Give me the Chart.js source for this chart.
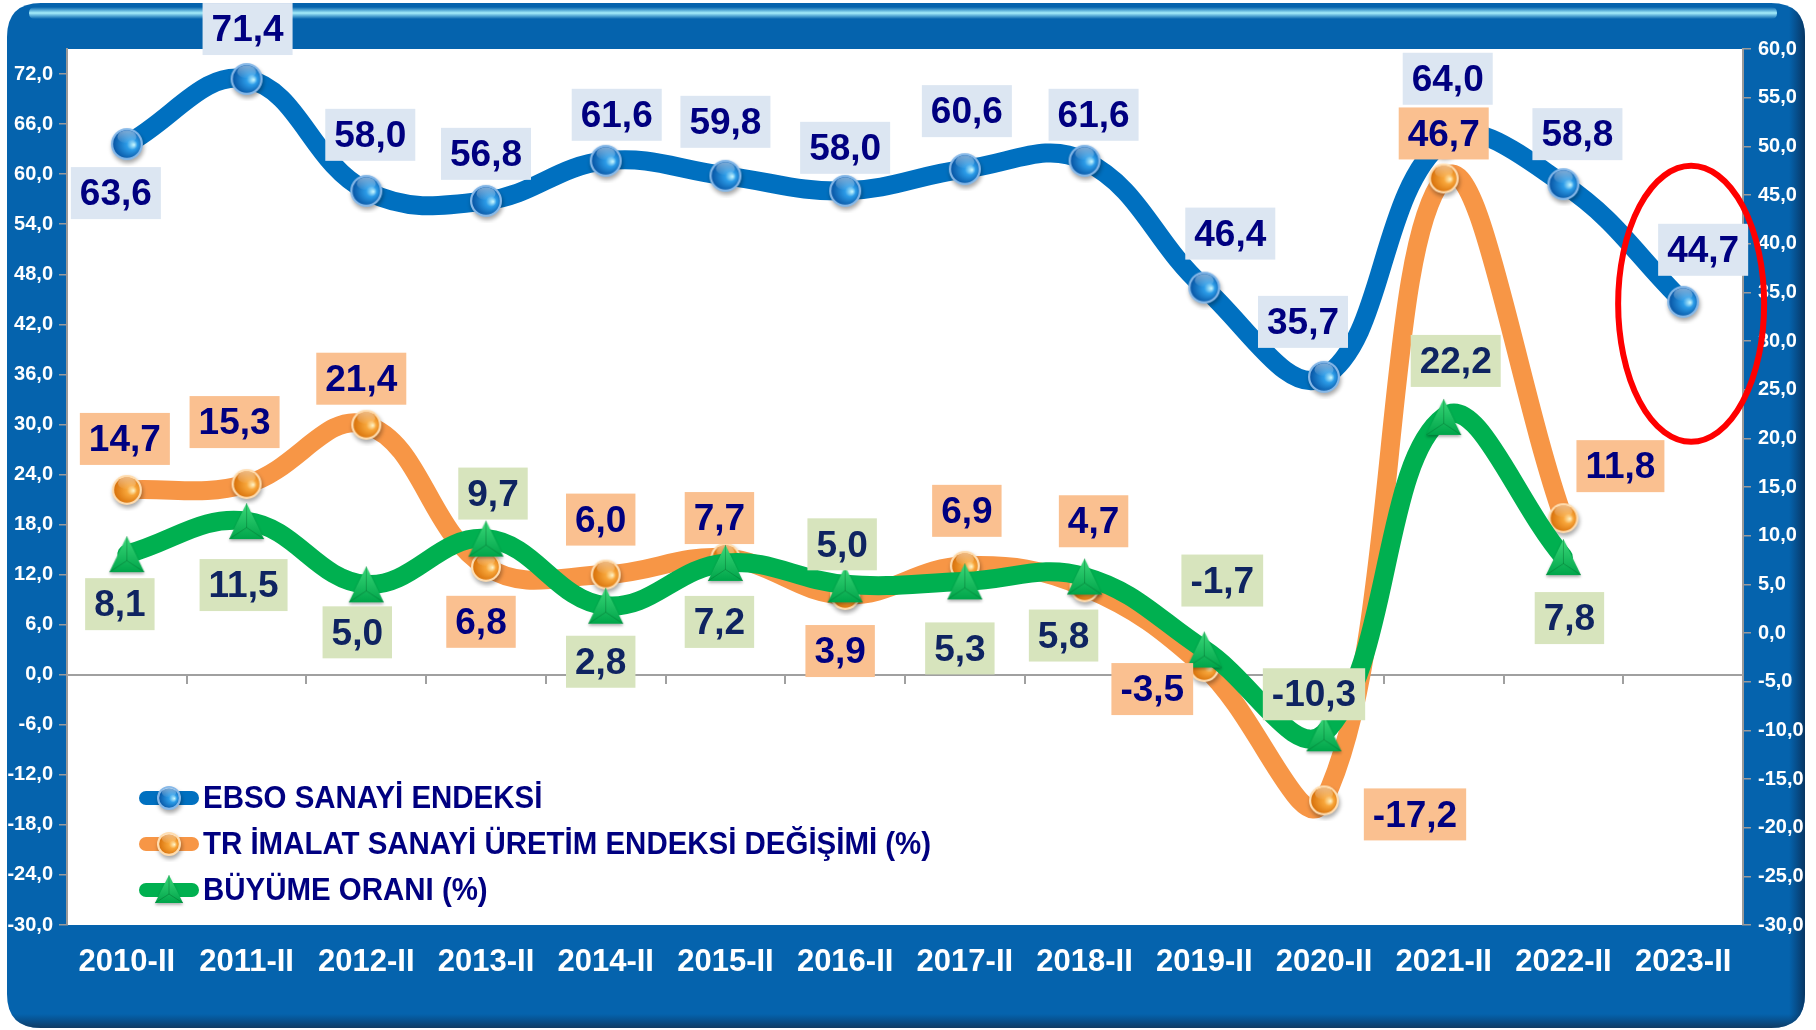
<!DOCTYPE html>
<html>
<head>
<meta charset="utf-8">
<script src="https://cdn.jsdelivr.net/npm/chart.js@4.4.1/dist/chart.umd.min.js"></script>
<style>
html,body{margin:0;padding:0;background:#fff;overflow:hidden;}
canvas{display:block;}
</style>
</head>
<body>
<canvas id="c" width="1816" height="1030"></canvas>
<script>
// ---------------- DATA ----------------
const categories = ['2010-II','2011-II','2012-II','2013-II','2014-II','2015-II','2016-II','2017-II','2018-II','2019-II','2020-II','2021-II','2022-II','2023-II'];
const ebsoIndex = [63.6, 71.4, 58.0, 56.8, 61.6, 59.8, 58.0, 60.6, 61.6, 46.4, 35.7, 64.0, 58.8, 44.7];
const trManufacturingChange = [14.7, 15.3, 21.4, 6.8, 6.0, 7.7, 3.9, 6.9, 4.7, -3.5, -17.2, 46.7, 11.8, null];
const growthRate = [8.1, 11.5, 5.0, 9.7, 2.8, 7.2, 5.0, 5.3, 5.8, -1.7, -10.3, 22.2, 7.8, null];
const leftTickValues = [-30, -24, -18, -12, -6, 0, 6, 12, 18, 24, 30, 36, 42, 48, 54, 60, 66, 72];
const rightTickValues = [-30, -25, -20, -15, -10, -5, 0, 5, 10, 15, 20, 25, 30, 35, 40, 45, 50, 55, 60];
const seriesNames = ['EBSO SANAYİ ENDEKSİ', 'TR İMALAT SANAYİ ÜRETİM ENDEKSİ DEĞİŞİMİ (%)', 'BÜYÜME ORANI (%)'];

// ---------------- STYLE ----------------
const FONT = '"Liberation Sans", Arial, sans-serif';
const fmt = v => v.toFixed(1).replace('.', ',');

// label box centre offsets relative to each point (px)
const ebsoLabelOffsets = [[-11,49],[1,-50],[4,-56],[0,-47],[11,-46],[0,-54],[0,-43],[2,-58],[9,-46],[26,-54],[-21,-55],[4,-62],[14,-50],[20,-52]];
const trLabelOffsets = [[-2,-51],[-12,-62],[-5,-46],[-5,55],[-5,-55],[-6,-40],[-5,56],[2,-55],[9,-66],[-52,22],[91,14],[0,-45],[57,-52],null];
const growthLabelOffsets = [[-7,50],[-3,64],[-9,48],[7,-45],[-5,56],[-6,59],[-3,-40],[-5,67],[-21,59],[18,-69],[-10,-39],[12,-56],[6,61],null];

function makeSphere(r, col) {
  const s = 2 * r + 12;
  const cv = document.createElement('canvas');
  cv.width = s; cv.height = s;
  const g = cv.getContext('2d');
  const cx = s / 2, cy = s / 2;
  g.save();
  g.shadowColor = 'rgba(0,0,0,0.35)';
  g.shadowBlur = 4; g.shadowOffsetX = 1; g.shadowOffsetY = 3;
  g.beginPath(); g.arc(cx, cy, r, 0, Math.PI * 2); g.fillStyle = col.rim; g.fill();
  g.restore();
  const rg = g.createRadialGradient(cx + r * 0.45, cy + r * 0.05, 0, cx + r * 0.1, cy, r * 0.95);
  rg.addColorStop(0, col.hi);
  rg.addColorStop(0.35, col.mid);
  rg.addColorStop(1, col.dark);
  g.beginPath(); g.arc(cx, cy, r - 2.2, 0, Math.PI * 2); g.fillStyle = rg; g.fill();
  const tg = g.createLinearGradient(0, cy - r, 0, cy);
  tg.addColorStop(0, 'rgba(255,255,255,0.55)');
  tg.addColorStop(1, 'rgba(255,255,255,0)');
  g.beginPath(); g.ellipse(cx, cy - r * 0.45, r * 0.6, r * 0.4, 0, 0, Math.PI * 2); g.fillStyle = tg; g.fill();
  return cv;
}
function makeTriangle(w, h) {
  const cv = document.createElement('canvas');
  cv.width = w + 10; cv.height = h + 10;
  const g = cv.getContext('2d');
  const cx = cv.width / 2, cy = cv.height / 2;
  const top = cy - h / 2, bot = cy + h / 2;
  g.save();
  g.shadowColor = 'rgba(0,0,0,0.3)';
  g.shadowBlur = 3; g.shadowOffsetY = 2;
  g.beginPath(); g.moveTo(cx, top); g.lineTo(cx + w / 2, bot); g.lineTo(cx - w / 2, bot); g.closePath();
  const lg = g.createLinearGradient(0, top, 0, bot);
  lg.addColorStop(0, '#3BD879'); lg.addColorStop(1, '#00A54A');
  g.fillStyle = lg; g.fill();
  g.restore();
  const mx = cx, my = top + h * 0.68;
  g.strokeStyle = 'rgba(0,90,35,0.35)'; g.lineWidth = 1;
  g.beginPath(); g.moveTo(mx, my); g.lineTo(cx, top); g.moveTo(mx, my); g.lineTo(cx + w / 2, bot); g.moveTo(mx, my); g.lineTo(cx - w / 2, bot); g.stroke();
  return cv;
}
const blueCol = {rim:'#86B8E8', hi:'#CFFBFF', mid:'#2C9CE8', dark:'#0857A6'};
const orangeCol = {rim:'#FFDDB0', hi:'#FFF7CC', mid:'#F8A63A', dark:'#D8720C'};
const blueSphere = makeSphere(16, blueCol);
const orangeSphere = makeSphere(15, orangeCol);
const greenTri = makeTriangle(35, 36);
const blueSphereS = makeSphere(12, blueCol);
const orangeSphereS = makeSphere(12, orangeCol);
const greenTriS = makeTriangle(28, 28);

// ---------------- PLUGINS ----------------
function roundRectPath(g, x, y, w, h, r) {
  g.beginPath();
  g.moveTo(x + r, y); g.lineTo(x + w - r, y); g.quadraticCurveTo(x + w, y, x + w, y + r);
  g.lineTo(x + w, y + h - r); g.quadraticCurveTo(x + w, y + h, x + w - r, y + h);
  g.lineTo(x + r, y + h); g.quadraticCurveTo(x, y + h, x, y + h - r);
  g.lineTo(x, y + r); g.quadraticCurveTo(x, y, x + r, y); g.closePath();
}
const framePlugin = {
  id: 'frame',
  beforeDraw(chart) {
    const g = chart.ctx, a = chart.chartArea;
    g.save();
    const X = 7, Y = 3, W = 1798, H = 1025, R = 34;
    roundRectPath(g, X, Y, W, H, R);
    g.fillStyle = '#0563AD'; g.fill();
    g.save();
    roundRectPath(g, X, Y, W, H, R); g.clip();
    let eg = g.createLinearGradient(X + W - 16, 0, X + W, 0);
    eg.addColorStop(0, 'rgba(8,50,95,0)'); eg.addColorStop(1, 'rgba(8,45,85,0.85)');
    g.fillStyle = eg; g.fillRect(X + W - 16, Y, 16, H);
    eg = g.createLinearGradient(0, Y + H - 14, 0, Y + H);
    eg.addColorStop(0, 'rgba(8,50,95,0)'); eg.addColorStop(1, 'rgba(20,50,80,0.8)');
    g.fillStyle = eg; g.fillRect(X, Y + H - 14, W, 14);
    const gl = g.createLinearGradient(0, Y + 4, 0, Y + 16);
    gl.addColorStop(0, 'rgba(160,235,255,0)');
    gl.addColorStop(0.5, 'rgba(175,245,255,0.95)');
    gl.addColorStop(1, 'rgba(160,235,255,0)');
    g.fillStyle = gl;
    roundRectPath(g, X + 22, Y + 4, W - 50, 12, 6); g.fill();
    g.restore();
    g.fillStyle = '#FFFFFF';
    g.fillRect(a.left, a.top, a.right - a.left, a.bottom - a.top);
    g.restore();
  },
  beforeDatasetsDraw(chart) {
    const g = chart.ctx, a = chart.chartArea;
    const ys = chart.scales.y, xs = chart.scales.x;
    const y0 = Math.round(ys.getPixelForValue(0));
    g.save();
    g.strokeStyle = '#A0A0A0'; g.lineWidth = 2;
    g.beginPath(); g.moveTo(a.left, y0); g.lineTo(a.right, y0); g.stroke();
    g.beginPath();
    for (let i = 0; i < categories.length - 1; i++) {
      const xp = Math.round((xs.getPixelForValue(i) + xs.getPixelForValue(i + 1)) / 2);
      g.moveTo(xp, y0); g.lineTo(xp, y0 + 9);
    }
    g.stroke();
    g.restore();
  }
};
const labelPlugin = {
  id: 'boxLabels',
  afterDatasetsDraw(chart) {
    const g = chart.ctx;
    const specs = [
      {ds: 0, offsets: ebsoLabelOffsets, bg: '#DCE6F2', color: '#000080'},
      {ds: 1, offsets: trLabelOffsets, bg: '#FAC090', color: '#000080'},
      {ds: 2, offsets: growthLabelOffsets, bg: '#D7E4BD', color: '#0F2461'}
    ];
    g.save();
    g.font = 'bold 37px ' + FONT;
    g.textAlign = 'center'; g.textBaseline = 'middle';
    specs.forEach(s => {
      const meta = chart.getDatasetMeta(s.ds);
      const data = chart.data.datasets[s.ds].data;
      meta.data.forEach((pt, i) => {
        const v = data[i];
        if (v == null || !s.offsets[i]) return;
        const txt = fmt(v);
        const w = g.measureText(txt).width + 18, h = 52;
        const cx = pt.x + s.offsets[i][0], cy = pt.y + s.offsets[i][1];
        g.fillStyle = s.bg; g.fillRect(cx - w / 2, cy - h / 2, w, h);
        g.fillStyle = s.color; g.fillText(txt, cx, cy + 2);
      });
    });
    g.restore();
    // legend (inside plot area, bottom-left)
    const lx = 139, rows = [798, 844, 890];
    const lcols = ['#0070C0', '#F79646', '#00B050'];
    const lmark = [blueSphereS, orangeSphereS, greenTriS];
    g.save();
    chart.data.datasets.forEach((d, i) => {
      const y = rows[i];
      g.strokeStyle = lcols[i]; g.lineWidth = 14; g.lineCap = 'round';
      g.beginPath(); g.moveTo(lx + 7, y); g.lineTo(lx + 53, y); g.stroke();
      const m = lmark[i];
      g.drawImage(m, lx + 30 - m.width / 2, y - m.height / 2 + (i === 2 ? -1 : 0));
      g.save();
      g.translate(lx + 64, y);
      g.scale(0.95, 1);
      g.font = 'bold 31px ' + FONT;
      g.fillStyle = '#000080'; g.textAlign = 'left'; g.textBaseline = 'middle';
      g.fillText(d.label, 0, 1);
      g.restore();
    });
    g.restore();
  },
  afterDraw(chart) {
    const meta = chart.getDatasetMeta(0);
    const p = meta.data[meta.data.length - 1];
    const g = chart.ctx;
    g.save();
    g.strokeStyle = '#FF0000'; g.lineWidth = 6;
    g.beginPath(); g.ellipse(p.x + 8, p.y + 2, 73, 138, 0, 0, Math.PI * 2); g.stroke();
    g.restore();
  }
};

// ---------------- CHART ----------------
const tickFont = {family: FONT, size: 20, weight: 'bold'};
new Chart(document.getElementById('c'), {
  type: 'line',
  data: {
    labels: categories,
    datasets: [
      {label: seriesNames[0], data: ebsoIndex, yAxisID: 'y', borderColor: '#0070C0', borderWidth: 19,
       tension: 0.4, pointStyle: blueSphere, pointRadius: 16, order: 3, borderCapStyle: 'round', borderJoinStyle: 'round'},
      {label: seriesNames[1], data: trManufacturingChange, yAxisID: 'y1', borderColor: '#F79646', borderWidth: 19,
       tension: 0.4, pointStyle: orangeSphere, pointRadius: 15, order: 2, borderCapStyle: 'round', borderJoinStyle: 'round'},
      {label: seriesNames[2], data: growthRate, yAxisID: 'y1', borderColor: '#00B050', borderWidth: 19,
       tension: 0.4, pointStyle: greenTri, pointRadius: 18, order: 1, borderCapStyle: 'round', borderJoinStyle: 'round'}
    ]
  },
  options: {
    responsive: false,
    animation: false,
    devicePixelRatio: 1,
    layout: {padding: {top: 49, left: 0, right: 0, bottom: 0}},
    plugins: {legend: {display: false}, tooltip: {enabled: false}},
    scales: {
      x: {
        type: 'category', offset: true,
        grid: {display: false, drawTicks: false}, border: {display: false},
        ticks: {color: '#FFFFFF', font: {family: FONT, size: 31, weight: 'bold'}, padding: 19, autoSkip: false, maxRotation: 0},
        afterFit(s) { s.height = 105; }
      },
      y: {
        position: 'left', min: -30, max: 75,
        afterBuildTicks(s) { s.ticks = leftTickValues.map(v => ({value: v})); },
        grid: {drawOnChartArea: false, drawTicks: true, tickLength: 8, color: '#9A9A9A', lineWidth: 1.5},
        border: {display: true, color: '#9A9A9A', width: 2},
        ticks: {color: '#FFFFFF', font: tickFont, padding: 6, callback: v => fmt(v)},
        afterFit(s) { s.width = 67; }
      },
      y1: {
        position: 'right', min: -30, max: 60,
        afterBuildTicks(s) { s.ticks = rightTickValues.map(v => ({value: v})); },
        grid: {drawOnChartArea: false, drawTicks: true, tickLength: 8, color: '#9A9A9A', lineWidth: 1.5},
        border: {display: true, color: '#9A9A9A', width: 2},
        ticks: {color: '#FFFFFF', font: tickFont, padding: 7, callback: v => fmt(v)},
        afterFit(s) { s.width = 73; }
      }
    }
  },
  plugins: [framePlugin, labelPlugin]
});
</script>
</body>
</html>
